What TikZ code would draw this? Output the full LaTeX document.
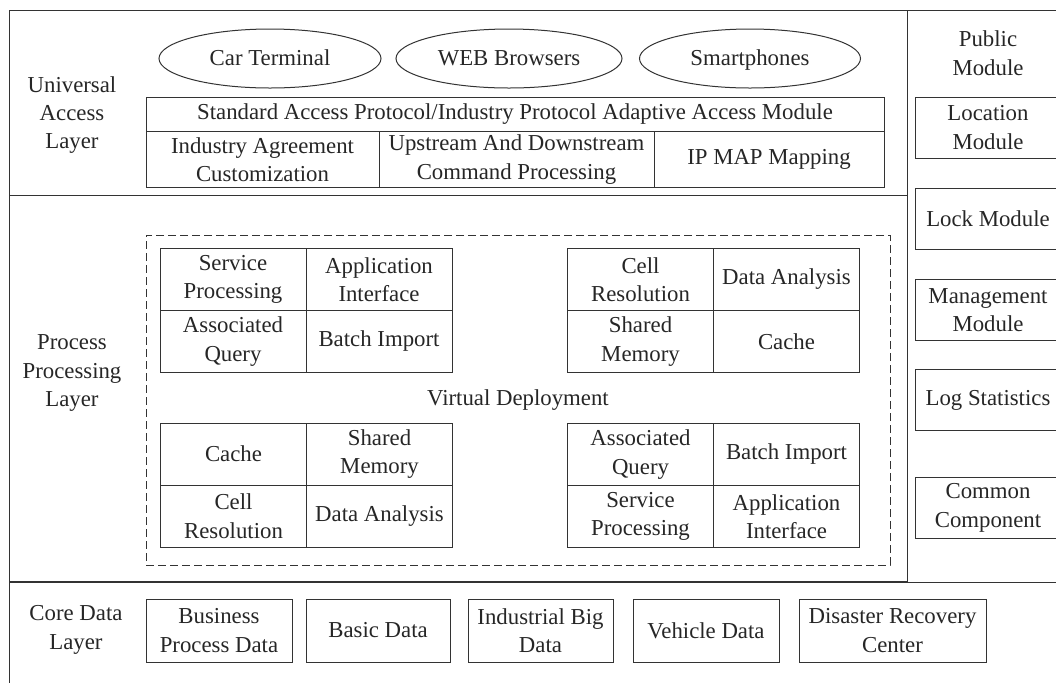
\documentclass[tikz,border=0pt]{standalone}
\usepackage{fontspec}
\setmainfont{Liberation Serif}
\usetikzlibrary{shapes.geometric, positioning}

\tikzset{
	blk/.style 2 args={draw, align=center, inner sep=0pt, outer sep=0pt, minimum width=#1, minimum height=#2},
	client/.style={draw, ellipse, inner sep=0pt, text height=0.74em, text depth=0em, minimum width=#1, minimum height=29.5pt},
	lbl/.style={align=center, inner sep=0pt},
}

\begin{document}
\begin{tikzpicture}[x=0.5pt, y=-0.5pt, line width=0.5pt, draw=black!80, text=black!85, font=\fontsize{11.4}{14.2}\selectfont]
	\useasboundingbox (0,0) rectangle (1056,682);
	
	% frame and layers
	\draw (9,700) -- (9,10) -- (1070,10);
	\draw (9,195) -- (907,195);
	\draw (907,10) -- (907,582);
	\draw[line width=0.9pt] (9,582) -- (907,582);
	\draw (907,582) -- (1070,582);
	
	\node[lbl] (ual) at (72,115) {Universal\\Access\\Layer};
	\node[lbl] (ppl) at (72,373) {Process\\Processing\\Layer};
	\node[lbl] (cdl) at (76,630) {Core Data\\Layer};
	\node[lbl] (pub) at (988,53) {Public\\Module};
	
	% universal access layer
	\node[client=111pt] (car) at (270,58.5) {Car Terminal};
	\node[client=113pt] (web) at (509,58.5) {WEB Browsers};
	\node[client=110.5pt] (phone) at (750,58.5) {Smartphones};
	
	\node[blk={369pt}{17pt}] (std) at (515,114.5) {Standard Access Protocol/Industry Protocol Adaptive Access Module};
	\node[blk={116.5pt}{28pt}, below=0pt of std.south west, anchor=north west] (cust) {Industry Agreement\\Customization};
	\node[blk={137.5pt}{28pt}, right=0pt of cust] (cmd) {Upstream And Downstream\\Command Processing};
	\node[blk={115pt}{28pt}, right=0pt of cmd] (ipmap) {IP MAP Mapping};
	
	% public module
	\node[blk={73pt}{30.5pt}] (loc) at (988,127.5) {Location\\Module};
	\node[blk={73pt}{30.5pt}] (lock) at (988,218.5) {Lock Module};
	\node[blk={73pt}{30.5pt}] (mgmt) at (988,310) {Management\\Module};
	\node[blk={73pt}{30.5pt}] (log) at (988,400) {Log Statistics};
	\node[blk={73pt}{30.5pt}] (comp) at (988,508) {Common\\Component};
	
	% process processing layer
	\node[draw, dashed, dash pattern=on 4pt off 2pt, inner sep=0pt, minimum width=372pt, minimum height=165pt] (vd) at (518,400) {Virtual Deployment};
	
	\node[blk={73pt}{31pt}] (sp) at (233,279.5) {Service\\Processing};
	\node[blk={73pt}{31pt}, right=0pt of sp] (ai) {Application\\Interface};
	\node[blk={73pt}{31pt}, below=0pt of sp] (aq) {Associated\\Query};
	\node[blk={73pt}{31pt}, right=0pt of aq] (bi) {Batch Import};
	
	\node[blk={73pt}{31pt}] (cr) at (640.5,279.5) {Cell\\Resolution};
	\node[blk={73pt}{31pt}, right=0pt of cr] (da) {Data Analysis};
	\node[blk={73pt}{31pt}, below=0pt of cr] (sm) {Shared\\Memory};
	\node[blk={73pt}{31pt}, right=0pt of sm] (ca) {Cache};
	
	\node[blk={73pt}{31pt}] (ca2) at (233.5,454) {Cache};
	\node[blk={73pt}{31pt}, right=0pt of ca2] (sm2) {Shared\\Memory};
	\node[blk={73pt}{31pt}, below=0pt of ca2] (cr2) {Cell\\Resolution};
	\node[blk={73pt}{31pt}, right=0pt of cr2] (da2) {Data Analysis};
	
	\node[blk={73pt}{31pt}] (aq2) at (640.5,454.5) {Associated\\Query};
	\node[blk={73pt}{31pt}, right=0pt of aq2] (bi2) {Batch Import};
	\node[blk={73pt}{31pt}, below=0pt of aq2] (sp2) {Service\\Processing};
	\node[blk={73pt}{31pt}, right=0pt of sp2] (ai2) {Application\\Interface};
	
	% core data layer
	\node[blk={73pt}{31.5pt}] (bpd) at (219,630.5) {Business\\Process Data};
	\node[blk={72pt}{31.5pt}] (basic) at (378,630.5) {Basic Data};
	\node[blk={72.5pt}{31.5pt}] (ibd) at (540.5,630.5) {Industrial Big\\Data};
	\node[blk={73pt}{31.5pt}] (veh) at (706,630.5) {Vehicle Data};
	\node[blk={93.5pt}{31.5pt}] (drc) at (892.5,630.5) {Disaster Recovery\\Center};
	
\end{tikzpicture}
\end{document}
